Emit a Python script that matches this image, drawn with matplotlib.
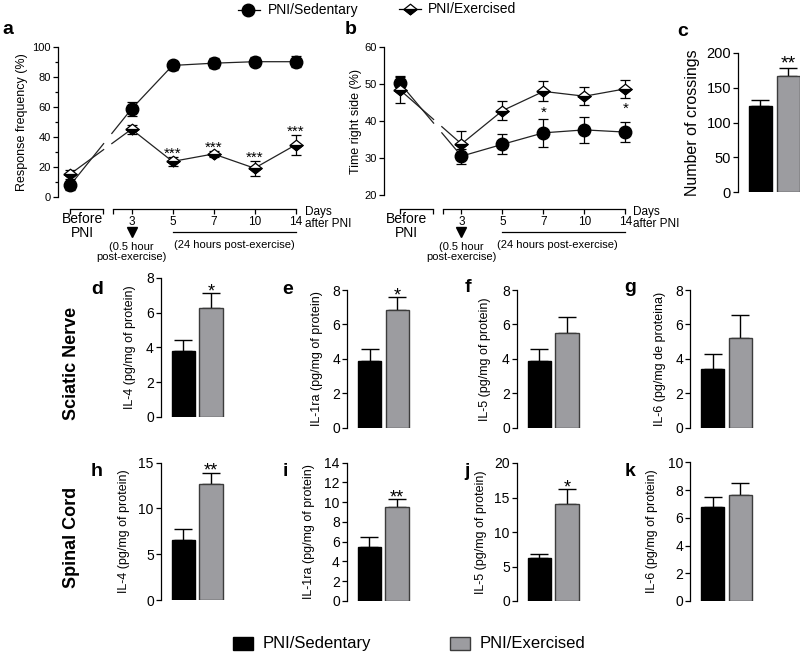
import numpy as np
import matplotlib
matplotlib.use('Agg')
import matplotlib.pyplot as plt
from matplotlib.transforms import blended_transform_factory
from matplotlib.patches import Rectangle

plt.rcParams['font.family'] = ['Liberation Sans', 'DejaVu Sans']
plt.rcParams['axes.linewidth'] = 0.9
plt.rcParams['ytick.major.width'] = 0.9
plt.rcParams['ytick.minor.width'] = 0.9
plt.rcParams['ytick.major.size'] = 3.5
plt.rcParams['ytick.minor.size'] = 2.5

W, H = 800, 653
GREY = '#9c9ca0'
GREY_EDGE = '#3c3c3c'

# ---- data ----
days = ['3', '5', '7', '10', '14']

# a: von Frey response frequency (%)
a_sed = [7.5, 58.5, 87.5, 89, 90, 90]
a_sed_err = [3, 4.5, 3, 3.5, 3, 3.5]
a_exe = [15, 45, 23.5, 28.5, 19, 34.5]
a_exe_err = [3, 3, 3, 2, 5, 6.5]
a_stars = ['', '', '***', '***', '***', '***']

# b: time on right side (%)
b_sed = [50.2, 30.5, 33.7, 36.8, 37.6, 37]
b_sed_err = [2, 2, 2.7, 3.7, 3.5, 2.8]
b_exe = [48.4, 33.8, 42.8, 48, 46.7, 48.7]
b_exe_err = [3.5, 3.6, 2.5, 2.7, 2.4, 2.4]
b_stars = ['', '', '', '*', '', '*']

# c: number of crossings
c_mean = [124, 167]
c_err = [8, 12]

# d-g: sciatic nerve, h-k: spinal cord  (sedentary, exercised)
cyto_letters = ['d', 'e', 'f', 'g', 'h', 'i', 'j', 'k']
cyto_ylabels = ['IL-4 (pg/mg of protein)', 'IL-1ra (pg/mg of protein)',
                'IL-5 (pg/mg of protein)', 'IL-6 (pg/mg de proteina)',
                'IL-4 (pg/mg of protein)', 'IL-1ra (pg/mg of protein)',
                'IL-5 (pg/mg of protein)', 'IL-6 (pg/mg of protein)']
cyto_sed = [3.8, 3.9, 3.88, 3.4, 6.55, 5.5, 6.2, 6.8]
cyto_sed_err = [0.6, 0.7, 0.72, 0.9, 1.15, 1.0, 0.6, 0.67]
cyto_exe = [6.27, 6.84, 5.49, 5.2, 12.7, 9.46, 14.05, 7.64]
cyto_exe_err = [0.86, 0.76, 0.96, 1.35, 1.2, 0.8, 2.2, 0.84]
cyto_stars = ['*', '*', '', '', '**', '**', '*', '']
cyto_ymax = [8, 8, 8, 8, 15, 14, 20, 10]
cyto_step = [2, 2, 2, 2, 5, 2, 5, 2]

# ---- layout (pixels) ----
XPOS = [0, 1.5, 2.5, 3.5, 4.5, 5.5]
GAP = (0.82, 1.02)
# spine x, top y, bottom y for the cytokine panels
cyto_box = [(160.7, 278, 416.7), (347, 290, 427.7), (516.7, 290, 427.7), (690, 290, 427.7),
            (160.7, 462.5, 600), (346.7, 462.5, 601), (516.7, 463, 601), (690, 462.3, 601)]
cyto_ylab_x = [130, 317, 485, 660, 124, 309, 481, 652]
cyto_let_xy = [(97, 289), (288, 289), (468, 288), (630, 288),
               (97, 472), (285, 472), (467, 472), (630, 472)]

fig = plt.figure(figsize=(W / 100, H / 100), dpi=100)


def px_axes(l, t, r, b):
    return fig.add_axes([l / W, 1 - b / H, (r - l) / W, (b - t) / H])


def fy(py):
    return 1 - py / H


def ftext(px, py, s, **kw):
    fig.text(px / W, fy(py), s, **kw)


DIAMOND = [(-1, 0), (0, 0.8), (1, 0), (0, -0.8), (-1, 0)]
LOWER = [(-1, 0), (1, 0), (0, -0.8), (-1, 0)]


def diamonds(ax, x, y, ms=9.5, **kw):
    ax.plot(x, y, ls='none', marker=DIAMOND, ms=ms, mfc='white', mec='black', mew=0.9, zorder=5, **kw)
    ax.plot(x, y, ls='none', marker=LOWER, ms=ms, mfc='black', mec='black', mew=0.9, zorder=6, **kw)


def broken_line(ax, x, y):
    ya = np.interp(GAP[0], x[:2], y[:2])
    yb = np.interp(GAP[1], x[:2], y[:2])
    kw = dict(color='#222222', lw=0.9, clip_on=False, zorder=2)
    ax.plot([x[0], GAP[0]], [y[0], ya], **kw)
    ax.plot([GAP[1]] + list(x[1:]), [yb] + list(y[1:]), **kw)


def star(ax, x, yref, s, d_pt, fs):
    ax.annotate(s, (x, yref), xytext=(0, d_pt - 0.57 * fs), textcoords='offset points',
                ha='center', va='baseline', fontsize=fs)


def time_axis(ax, before_x, note_x, days_x):
    tr = blended_transform_factory(ax.transData, fig.transFigure)
    y = fy(209)
    kw = dict(color='black', lw=0.9, transform=tr, clip_on=False, marker=3, ms=3.5, mew=0.9)
    ax.plot([0, 0.8], [y, y], **kw)
    ax.plot([1.04] + XPOS[1:], [y] * 6, **kw)
    for xp, lab in zip(XPOS[1:], days):
        ax.text(xp, fy(222), lab, transform=tr, ha='center', va='center', fontsize=8.5)
    ax.text(before_x, fy(226), 'Before\nPNI', transform=tr, ha='center', va='center',
            fontsize=10, linespacing=1.05)
    ax.plot([1.5], [fy(232)], marker='v', ms=6.5, color='black', transform=tr, clip_on=False)
    ax.text(1.5, fy(252), '(0.5 hour\npost-exercise)', transform=tr, ha='center', va='center',
            fontsize=8, linespacing=1.1)
    ax.plot([2.5, 5.5], [fy(232)] * 2, color='black', lw=0.9, transform=tr, clip_on=False)
    ax.text(note_x, fy(245), '(24 hours post-exercise)', transform=tr, ha='center', va='center',
            fontsize=8)
    ax.text(days_x, fy(218), 'Days\nafter PNI', transform=tr, ha='left', va='center',
            fontsize=8.5, linespacing=1.05)


def time_panel(ax, sed, sed_err, exe, exe_err):
    broken_line(ax, XPOS, sed)
    broken_line(ax, XPOS, exe)
    ax.errorbar(XPOS, sed, yerr=sed_err, fmt='none', ecolor='black', elinewidth=0.9,
                capsize=3.5, capthick=0.9, clip_on=False, zorder=3)
    ax.errorbar(XPOS, exe, yerr=exe_err, fmt='none', ecolor='black', elinewidth=0.9,
                capsize=3.5, capthick=0.9, clip_on=False, zorder=3)
    ax.plot(XPOS, sed, ls='none', marker='o', ms=9, color='black', clip_on=False, zorder=4)
    diamonds(ax, XPOS, exe, clip_on=False)
    for s in ['top', 'right', 'bottom']:
        ax.spines[s].set_visible(False)
    ax.set_xticks([])
    ax.tick_params(axis='y', labelsize=8, pad=1.5)


# ---- panel a ----
ax_a = px_axes(58, 46.7, 307.8, 196.7)
time_panel(ax_a, a_sed, a_sed_err, a_exe, a_exe_err)
ax_a.set_xlim(-0.293, 5.8)
ax_a.set_ylim(0, 100)
ax_a.set_yticks(np.arange(0, 101, 20))
ax_a.set_yticks(np.arange(10, 100, 20), minor=True)
for xp, y, e, s in zip(XPOS, a_exe, a_exe_err, a_stars):
    if s:
        star(ax_a, xp, y + e, s, 5.8, 11)
time_axis(ax_a, 0.3, 4.0, 5.73)
ftext(22, 121.7, 'Response frequency (%)', rotation=90, ha='center', va='center', fontsize=9)
ftext(8, 30, 'a', fontsize=14, fontweight='bold', ha='center', va='center')

# ---- panel b ----
ax_b = px_axes(384, 47, 637.8, 195)
time_panel(ax_b, b_sed, b_sed_err, b_exe, b_exe_err)
ax_b.set_xlim(-0.39, 5.8)
ax_b.set_ylim(20, 60)
ax_b.set_yticks(np.arange(20, 61, 10))
for xp, y, e, s in zip(XPOS, b_exe, b_exe_err, b_stars):
    if s:
        star(ax_b, xp, y - e, s, -4.5, 11)
time_axis(ax_b, 0.15, 3.85, 5.68)
ftext(356, 121, 'Time right side (%)', rotation=90, ha='center', va='center', fontsize=9)
ftext(351, 30, 'b', fontsize=14, fontweight='bold', ha='center', va='center')


# ---- bar panels ----
def bar_panel(ax, vals, errs, ymax, step, st, width, capsize, star_fs, star_d):
    ax.bar([0, 1], vals, width=width, color=['black', GREY], edgecolor=['black', GREY_EDGE],
           linewidth=1, zorder=2)
    ax.errorbar([0, 1], vals, yerr=[[0, 0], errs], fmt='none', ecolor='black', elinewidth=1,
                capsize=capsize, capthick=1, zorder=1)
    ax.set_ylim(0, ymax)
    ax.set_yticks(np.arange(0, ymax + 0.01, step))
    for s in ['top', 'right', 'bottom']:
        ax.spines[s].set_visible(False)
    ax.set_xticks([])
    if st:
        star(ax, 1, vals[1] + errs[1], st, star_d, star_fs)


ax_c = px_axes(738, 53, 800, 192)
bar_panel(ax_c, c_mean, c_err, 200, 50, '**', 0.82, 6.5, 14, 7)
ax_c.set_xlim(-0.8, 1.41)
ax_c.tick_params(axis='y', labelsize=10.5, pad=1.5)
ftext(692, 122.5, 'Number of crossings', rotation=90, ha='center', va='center', fontsize=11.5)
ftext(683, 32, 'c', fontsize=14, fontweight='bold', ha='center', va='center')

for i in range(8):
    sx, top, bot = cyto_box[i]
    ax = px_axes(sx, top, sx + 65, bot)
    bar_panel(ax, [cyto_sed[i], cyto_exe[i]], [cyto_sed_err[i], cyto_exe_err[i]],
              cyto_ymax[i], cyto_step[i], cyto_stars[i], 0.84, 6.5, 13, 5)
    ax.set_xlim(-0.816, 1.53)
    ax.tick_params(axis='y', labelsize=10, pad=1.5)
    ftext(cyto_ylab_x[i], (top + bot) / 2, cyto_ylabels[i], rotation=90, ha='center',
          va='center', fontsize=9)
    lx, ly = cyto_let_xy[i]
    ftext(lx, ly, cyto_letters[i], fontsize=14, fontweight='bold', ha='center', va='center')

ftext(72, 363, 'Sciatic Nerve', rotation=90, ha='center', va='center', fontsize=13, fontweight='bold')
ftext(72, 537, 'Spinal Cord', rotation=90, ha='center', va='center', fontsize=13, fontweight='bold')

# ---- legends (pixel overlay) ----
ov = fig.add_axes([0, 0, 1, 1])
ov.set_xlim(0, W)
ov.set_ylim(H, 0)
ov.axis('off')
ov.plot([238, 260], [10, 10], color='black', lw=0.9)
ov.plot([248], [10], marker='o', ms=9, color='black')
ov.text(268, 10, 'PNI/Sedentary', va='center', fontsize=10)
ov.plot([399, 421], [9, 9], color='black', lw=0.9)
diamonds(ov, [410], [9])
ov.text(428, 9, 'PNI/Exercised', va='center', fontsize=10)

ov.add_patch(Rectangle((233, 637), 20, 13, fc='black', ec='black'))
ov.text(263, 643.5, 'PNI/Sedentary', va='center', fontsize=12)
ov.add_patch(Rectangle((450, 637), 20, 13, fc=GREY, ec=GREY_EDGE, lw=1))
ov.text(480, 643.5, 'PNI/Exercised', va='center', fontsize=12)

fig.savefig('out.png', dpi=100)
